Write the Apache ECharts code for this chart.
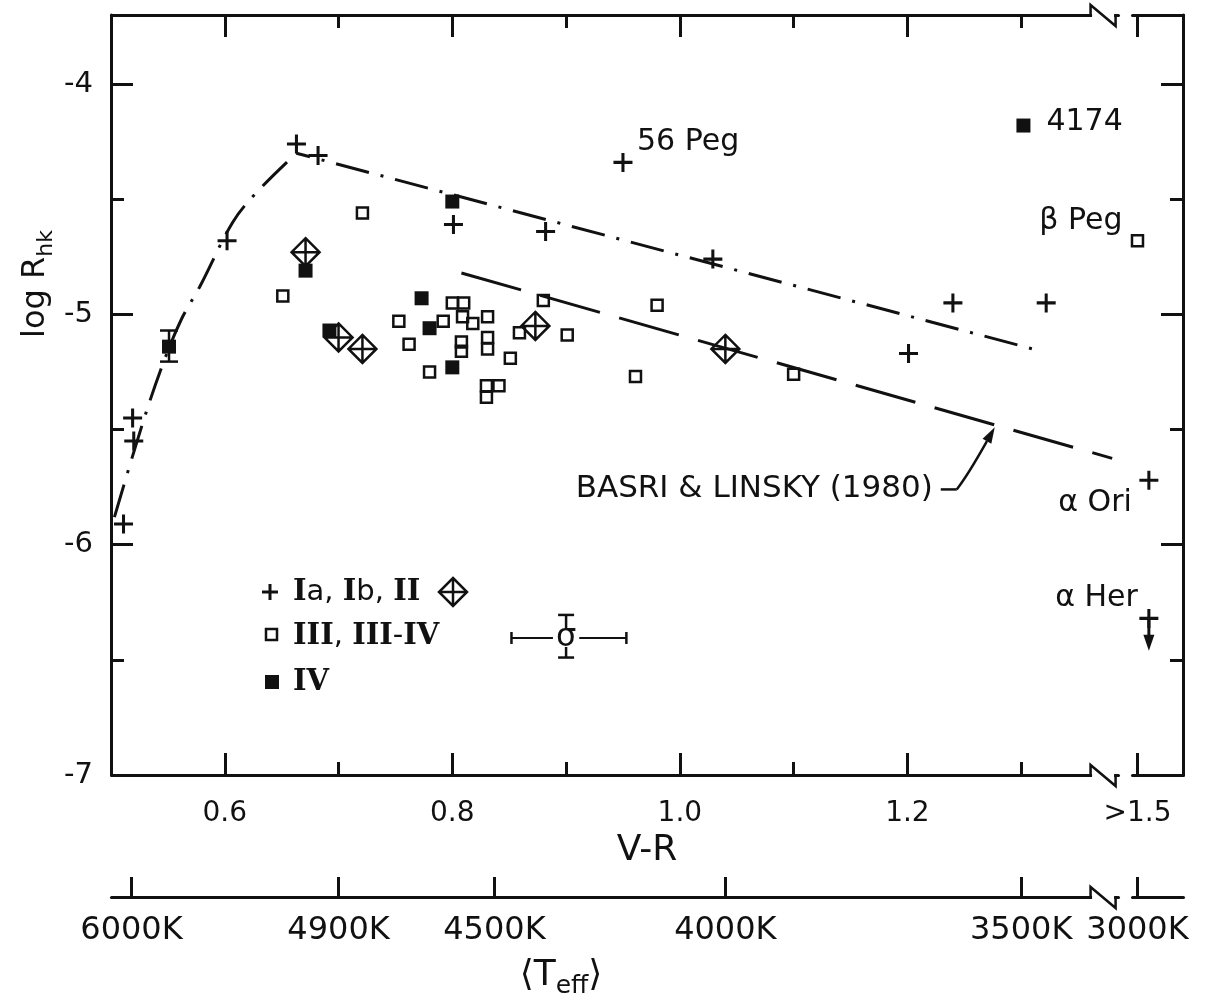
<!DOCTYPE html>
<html>
<head>
<meta charset="utf-8">
<title>log R_hk vs V-R</title>
<script src="https://cdn.jsdelivr.net/npm/echarts@6/dist/echarts.min.js"></script>
<style>
  html, body { margin: 0; padding: 0; background: #fff; }
  #chart { width: 1217px; height: 1003px; }
</style>
</head>
<body>
<div id="chart"></div>
<script>
// V-R axis, broken before the ">1.5" column
const vrMin = 0.5
const vrMax = 1.54
const vrBreaks = [{ start: 1.385, end: 1.495, gap: '1.3%' }]
const vrMajorTicks = [0.6, 0.8, 1.0, 1.2, 1.5]
const vrMinorTicks = [0.7, 0.9, 1.1, 1.3]
const vrLabels = ['0.6', '0.8', '1.0', '1.2', '>1.5']

// log R_hk axis
const rMin = -7
const rMax = -3.7
const rMajorTicks = [-7, -6, -5, -4]
const rMinorTicks = [-6.5, -5.5, -4.5]

// <Teff> scale under the V-R axis
const teffVR = [0.518, 0.70, 0.837, 1.04, 1.30, 1.50]
const teffLabels = ['6000K', '4900K', '4500K', '4000K', '3500K', '3000K']

// Ia, Ib, II  (+)
const superGiants = [
  [0.511, -5.91], [0.520, -5.55], [0.519, -5.45], [0.602, -4.68], [0.663, -4.26],
  [0.682, -4.31], [0.801, -4.61], [0.882, -4.64], [0.950, -4.34], [1.029, -4.76],
  [1.201, -5.17], [1.240, -4.95], [1.322, -4.95], [1.51, -5.72], [1.51, -6.32]
]
// Ia, Ib, II  (diamond)
const superGiantsB = [[0.671, -4.73], [0.700, -5.10], [0.721, -5.15], [0.873, -5.05], [1.040, -5.15]]
// III, III-IV
const giants = [
  [0.651, -4.92], [0.721, -4.56], [0.753, -5.03], [0.762, -5.13], [0.780, -5.25],
  [0.792, -5.03], [0.800, -4.95], [0.810, -4.95], [0.809, -5.01], [0.818, -5.04],
  [0.831, -5.01], [0.808, -5.12], [0.808, -5.16], [0.831, -5.10], [0.831, -5.15],
  [0.851, -5.19], [0.830, -5.31], [0.841, -5.31], [0.830, -5.36], [0.859, -5.08],
  [0.880, -4.94], [0.901, -5.09], [0.980, -4.96], [0.961, -5.27], [1.100, -5.26],
  [1.50, -4.68]
]
// IV
const subGiants = [
  [0.551, -5.14], [0.671, -4.81], [0.692, -5.07], [0.773, -4.93], [0.780, -5.06],
  [0.800, -4.51], [0.800, -5.23], [1.302, -4.18]
]
// upper envelope (dash-dot): rising curve, then straight fall
const envelopeRise = [
  [0.503, -5.88], [0.528, -5.47], [0.546, -5.21], [0.562, -5.02], [0.578, -4.88],
  [0.607, -4.60], [0.628, -4.47], [0.663, -4.30]
]
const envelopeFall = [[0.663, -4.30], [1.310, -5.15]]
// Basri & Linsky (1980) relation (dashed)
const basriLinsky = [[0.808, -4.82], [1.380, -5.625]]
// [x, y, yLow, yHigh]
const errorBars = [[0.551, -5.14, -5.205, -5.07]]
// [x, y, yEnd]
const upperLimits = [[1.51, -6.32, -6.46]]
// [x, y, xLow, xHigh, yLow, yHigh]
const sigmaKey = [[0.90, -6.405, 0.852, 0.953, -6.49, -6.305]]
const starNames = ['56 Peg', '4174', 'β Peg', 'α Ori', 'α Her']
const starNamePts = [[0.950, -4.34], [1.302, -4.18], [1.50, -4.68], [1.51, -5.72], [1.51, -6.32]]
// [text end x, y, arrow tip x, y]
const basriNote = [[1.2223, -5.760, 1.2768, -5.490]]
const basriText = 'BASRI & LINSKY (1980)'

const INK = '#111'
const FONT = "'DejaVu Sans', 'Liberation Sans', sans-serif"
const SERIF = "'DejaVu Serif', 'Liberation Serif', serif"

// label offsets for the star names (px)
const starNameLayout = [
  { dx: 14, dy: -20, align: 'left' },
  { dx: 23, dy: -3, align: 'left' },
  { dx: -15, dy: -19, align: 'right' },
  { dx: -17, dy: 23, align: 'right' },
  { dx: -11, dy: -20, align: 'right' }
]

const plusPath = 'path://M8.4,0H11.6V8.4H20V11.6H11.6V20H8.4V11.6H0V8.4H8.4Z'
const diamondPath = 'path://M10,0L20,10L10,20L0,10ZM0,10L20,10M10,0L10,20'

const measureCtx = document.createElement('canvas').getContext('2d')
function textWidth(str, size) {
  measureCtx.font = size + 'px ' + FONT
  return measureCtx.measureText(str).width
}

function nearest(arr, v) {
  let best = 0
  arr.forEach((a, i) => { if (Math.abs(a - v) < Math.abs(arr[best] - v)) best = i })
  return best
}

// x axis helper
function vrAxis(opts) {
  return Object.assign({
    type: 'value', gridIndex: 0, min: vrMin, max: vrMax,
    breaks: vrBreaks, breakArea: { show: false },
    splitLine: { show: false },
    axisPointer: { show: false },
    axisLine: { show: false, onZero: false, lineStyle: { color: INK, width: 3 } },
    axisLabel: { show: false }
  }, opts)
}

function rAxis(opts) {
  return Object.assign({
    type: 'value', gridIndex: 0, min: rMin, max: rMax,
    splitLine: { show: false },
    axisPointer: { show: false },
    axisLine: { show: false, lineStyle: { color: INK, width: 3 } },
    axisLabel: { show: false }
  }, opts)
}

const longTick = vals => ({ show: true, inside: true, length: 22, customValues: vals, lineStyle: { color: INK, width: 3 } })
const shortTick = vals => ({ show: true, inside: true, length: 13, customValues: vals, lineStyle: { color: INK, width: 3 } })

// 带下标的标题，分段绘制
function subTitle(cx, cy, rotation, parts) {
  const widths = parts.map(p => textWidth(p.text, p.size))
  const total = widths.reduce((a, b) => a + b, 0)
  let x = -total / 2
  const children = parts.map((p, i) => {
    const el = {
      type: 'text', x: x, y: p.dy,
      style: { text: p.text, fill: INK, fontFamily: FONT, fontSize: p.size, align: 'left', verticalAlign: 'middle' }
    }
    x += widths[i]
    return el
  })
  return { type: 'group', x: cx, y: cy, rotation: rotation, children: children }
}

function plusGlyph(cx, cy, r) {
  return [
    { type: 'line', shape: { x1: cx - r, y1: cy, x2: cx + r, y2: cy }, style: { stroke: INK, lineWidth: 3 } },
    { type: 'line', shape: { x1: cx, y1: cy - r, x2: cx, y2: cy + r }, style: { stroke: INK, lineWidth: 3 } }
  ]
}

function diamondGlyph(cx, cy, r) {
  const st = { stroke: INK, lineWidth: 2.5, fill: null }
  return [
    { type: 'polygon', shape: { points: [[cx, cy - r], [cx + r, cy], [cx, cy + r], [cx - r, cy]] }, style: st },
    { type: 'line', shape: { x1: cx - r, y1: cy, x2: cx + r, y2: cy }, style: st },
    { type: 'line', shape: { x1: cx, y1: cy - r, x2: cx, y2: cy + r }, style: st }
  ]
}

const legendText = (x, y, text) => ({
  type: 'text', x: x, y: y,
  style: {
    text: text, fill: INK, fontFamily: FONT, fontSize: 29, align: 'left', verticalAlign: 'middle',
    rich: { r: { fontFamily: SERIF, fontSize: 29, fontWeight: 'bold', fill: INK } }
  }
})

const legendGraphics = [
  ...plusGlyph(270, 592, 8),
  legendText(293, 592, '{r|I}a, {r|I}b, {r|II}'),
  ...diamondGlyph(453, 592, 14),
  { type: 'rect', shape: { x: 266, y: 629, width: 11, height: 11 }, style: { stroke: INK, lineWidth: 2.5, fill: null } },
  legendText(293, 636, '{r|III}, {r|III}-{r|IV}'),
  { type: 'rect', shape: { x: 265, y: 675, width: 14, height: 14 }, style: { fill: INK } },
  legendText(293, 682, '{r|IV}')
]

const titleGraphics = [
  subTitle(36, 284, Math.PI / 2, [
    { text: 'log R', size: 32, dy: 0 },
    { text: 'hk', size: 22, dy: 10 }
  ]),
  subTitle(561, 976, 0, [
    { text: '⟨T', size: 36, dy: 0 },
    { text: 'eff', size: 25, dy: 10 },
    { text: '⟩', size: 36, dy: 0 }
  ])
]

function renderErrorBar(params, api) {
  const top = api.coord([api.value(0), api.value(3)])
  const bot = api.coord([api.value(0), api.value(2)])
  const cap = 9
  const st = { stroke: INK, lineWidth: 2.5 }
  return {
    type: 'group', children: [
      { type: 'line', shape: { x1: top[0], y1: top[1], x2: bot[0], y2: bot[1] }, style: st },
      { type: 'line', shape: { x1: top[0] - cap, y1: top[1], x2: top[0] + cap, y2: top[1] }, style: st },
      { type: 'line', shape: { x1: bot[0] - cap, y1: bot[1], x2: bot[0] + cap, y2: bot[1] }, style: st }
    ]
  }
}

function renderUpperLimit(params, api) {
  const p = api.coord([api.value(0), api.value(1)])
  const e = api.coord([api.value(0), api.value(2)])
  return {
    type: 'group', children: [
      { type: 'line', shape: { x1: p[0], y1: p[1], x2: e[0], y2: e[1] - 8 }, style: { stroke: INK, lineWidth: 3 } },
      { type: 'polygon', shape: { points: [[e[0] - 5.5, e[1] - 16], [e[0] + 5.5, e[1] - 16], [e[0], e[1]]] }, style: { fill: INK } }
    ]
  }
}

function renderSigma(params, api) {
  const x = api.value(0), y = api.value(1)
  const c = api.coord([x, y])
  const l = api.coord([api.value(2), y])
  const r = api.coord([api.value(3), y])
  const b = api.coord([x, api.value(4)])
  const t = api.coord([x, api.value(5)])
  const thin = { stroke: INK, lineWidth: 2 }
  const thick = { stroke: INK, lineWidth: 2.5 }
  return {
    type: 'group', children: [
      { type: 'line', shape: { x1: l[0], y1: l[1], x2: r[0], y2: r[1] }, style: thin },
      { type: 'line', shape: { x1: l[0], y1: l[1] - 6, x2: l[0], y2: l[1] + 6 }, style: thick },
      { type: 'line', shape: { x1: r[0], y1: r[1] - 6, x2: r[0], y2: r[1] + 6 }, style: thick },
      { type: 'line', shape: { x1: t[0], y1: t[1], x2: b[0], y2: b[1] }, style: thick },
      { type: 'line', shape: { x1: t[0] - 8, y1: t[1], x2: t[0] + 8, y2: t[1] }, style: thick },
      { type: 'line', shape: { x1: b[0] - 8, y1: b[1], x2: b[0] + 8, y2: b[1] }, style: thick },
      {
        type: 'text', x: c[0], y: c[1],
        style: {
          text: 'σ', fill: INK, fontFamily: FONT, fontSize: 32, align: 'center', verticalAlign: 'middle',
          backgroundColor: '#fff', padding: [0, 3], lineHeight: 18
        }
      }
    ]
  }
}

function renderNote(params, api) {
  const a = api.coord([api.value(0), api.value(1)])
  const t = api.coord([api.value(2), api.value(3)])
  const s = [a[0] + 24, a[1]]
  const cp = [t[0] - 27, a[1] - 14]
  const len = Math.hypot(t[0] - cp[0], t[1] - cp[1])
  const d = [(t[0] - cp[0]) / len, (t[1] - cp[1]) / len]
  const base = [t[0] - d[0] * 16, t[1] - d[1] * 16]
  const n = [-d[1], d[0]]
  return {
    type: 'group', children: [
      {
        type: 'text', x: a[0], y: a[1],
        style: { text: basriText, fill: INK, fontFamily: FONT, fontSize: 31, align: 'right', verticalAlign: 'middle' }
      },
      { type: 'line', shape: { x1: a[0] + 8, y1: a[1], x2: s[0], y2: s[1] }, style: { stroke: INK, lineWidth: 2.5 } },
      {
        type: 'bezierCurve',
        shape: { x1: s[0], y1: s[1], cpx1: cp[0], cpy1: cp[1], x2: base[0], y2: base[1] },
        style: { stroke: INK, lineWidth: 2.5, fill: null }
      },
      {
        type: 'polygon',
        shape: { points: [t, [base[0] + n[0] * 5, base[1] + n[1] * 5], [base[0] - n[0] * 5, base[1] - n[1] * 5]] },
        style: { fill: INK }
      }
    ]
  }
}

function renderStarName(params, api) {
  const p = api.coord([api.value(0), api.value(1)])
  const lay = starNameLayout[params.dataIndex]
  return {
    type: 'text', x: p[0] + lay.dx, y: p[1] + lay.dy,
    style: {
      text: starNames[params.dataIndex], fill: INK, fontFamily: FONT, fontSize: 30,
      align: lay.align, verticalAlign: 'middle'
    }
  }
}

const chart = echarts.init(document.getElementById('chart'))

const solid = { opacity: 1 }

const option = {
  backgroundColor: '#fff',
  animation: false,
  grid: [
    { left: 111, right: 34, top: 15, bottom: 228, outerBoundsMode: 'none' },
    { left: 111, right: 34, top: 877, height: 20, outerBoundsMode: 'none' }
  ],
  xAxis: [
    vrAxis({
      position: 'bottom',
      name: 'V-R', nameLocation: 'middle', nameGap: 53,
      nameTextStyle: { fontFamily: FONT, fontSize: 36, color: INK },
      axisLine: { show: true, onZero: false, lineStyle: { color: INK, width: 3 } },
      axisTick: longTick(vrMajorTicks),
      axisLabel: {
        show: true, customValues: vrMajorTicks, margin: 25,
        formatter: v => vrLabels[nearest(vrMajorTicks, v)],
        fontFamily: FONT, fontSize: 28, color: INK
      }
    }),
    vrAxis({ position: 'bottom', axisTick: shortTick(vrMinorTicks) }),
    vrAxis({
      position: 'top',
      axisLine: { show: true, onZero: false, lineStyle: { color: INK, width: 3 } },
      axisTick: longTick(vrMajorTicks)
    }),
    vrAxis({ position: 'top', axisTick: shortTick(vrMinorTicks) }),
    vrAxis({
      gridIndex: 1, position: 'bottom',
      axisLine: { show: true, onZero: false, lineStyle: { color: INK, width: 3 } },
      axisTick: { show: true, inside: true, length: 20, customValues: teffVR, lineStyle: { color: INK, width: 3 } },
      axisLabel: {
        show: true, customValues: teffVR, margin: 18,
        formatter: v => teffLabels[nearest(teffVR, v)],
        fontFamily: FONT, fontSize: 32, color: INK
      }
    })
  ],
  yAxis: [
    rAxis({
      position: 'left',
      axisLine: { show: true, onZero: false, lineStyle: { color: INK, width: 3 } },
      axisTick: longTick(rMajorTicks),
      axisLabel: {
        show: true, customValues: rMajorTicks, margin: 18,
        formatter: v => String(Math.round(v)),
        fontFamily: FONT, fontSize: 29, color: INK
      }
    }),
    rAxis({ position: 'left', axisTick: shortTick(rMinorTicks) }),
    rAxis({
      position: 'right',
      axisLine: { show: true, onZero: false, lineStyle: { color: INK, width: 3 } },
      axisTick: longTick(rMajorTicks)
    }),
    rAxis({ position: 'right', axisTick: shortTick(rMinorTicks) }),
    { type: 'value', gridIndex: 1, show: false, min: 0, max: 1 }
  ],
  series: [
    {
      name: 'envelope', type: 'line', data: envelopeRise, symbol: 'none', silent: true, smooth: 0.35,
      lineStyle: { color: INK, width: 3, type: [34, 12, 3, 12] }
    },
    {
      name: 'envelope', type: 'line', data: envelopeFall, symbol: 'none', silent: true,
      lineStyle: { color: INK, width: 3, type: [34, 12, 3, 12], dashOffset: 20 }
    },
    {
      name: 'Basri & Linsky (1980)', type: 'line', data: basriLinsky, symbol: 'none', silent: true,
      lineStyle: { color: INK, width: 3, type: [62, 20] }
    },
    {
      name: 'III, III-IV', type: 'scatter', data: giants, symbol: 'rect', symbolSize: 11,
      itemStyle: { color: 'none', borderColor: INK, borderWidth: 2.5, opacity: 1 }, emphasis: { disabled: true }
    },
    {
      name: 'IV', type: 'scatter', data: subGiants, symbol: 'rect', symbolSize: 14,
      itemStyle: { color: INK, opacity: 1 }, emphasis: { disabled: true }
    },
    {
      name: 'Ia, Ib, II', type: 'scatter', data: superGiants, symbol: plusPath, symbolSize: 19,
      itemStyle: { color: INK, opacity: 1 }, emphasis: { disabled: true }
    },
    {
      name: 'Ia, Ib, II (diamond)', type: 'scatter', data: superGiantsB, symbol: diamondPath, symbolSize: 28,
      itemStyle: { color: 'none', borderColor: INK, borderWidth: 2.5, opacity: 1 }, emphasis: { disabled: true }
    },
    { name: 'error bars', type: 'custom', data: errorBars, renderItem: renderErrorBar, silent: true, itemStyle: solid },
    { name: 'upper limits', type: 'custom', data: upperLimits, renderItem: renderUpperLimit, silent: true, itemStyle: solid },
    { name: 'sigma', type: 'custom', data: sigmaKey, renderItem: renderSigma, silent: true, z: 5, itemStyle: solid },
    { name: 'note', type: 'custom', data: basriNote, renderItem: renderNote, silent: true, itemStyle: solid },
    { name: 'star names', type: 'custom', data: starNamePts, renderItem: renderStarName, silent: true, itemStyle: solid }
  ],
  graphic: [...legendGraphics, ...titleGraphics]
}

chart.setOption(option)

// zigzag break marks on the three V-R axis lines
const xa = chart.convertToPixel({ xAxisIndex: 0 }, 1.361)
const xb = chart.convertToPixel({ xAxisIndex: 0 }, 1.383)
const axisYs = [15, 775, 897]
const zigzags = []
axisYs.forEach(y0 => {
  zigzags.push({ type: 'rect', z: 50, shape: { x: xa + 1.5, y: y0 - 3, width: xb - xa - 3, height: 6 }, style: { fill: '#fff' } })
  zigzags.push({
    type: 'polyline', z: 51,
    shape: { points: [[xa, y0], [xa, y0 - 10], [xb, y0 + 11], [xb, y0]] },
    style: { stroke: INK, lineWidth: 2.5, fill: null }
  })
})
chart.setOption({ graphic: [...legendGraphics, ...titleGraphics, ...zigzags] })
</script>
</body>
</html>
